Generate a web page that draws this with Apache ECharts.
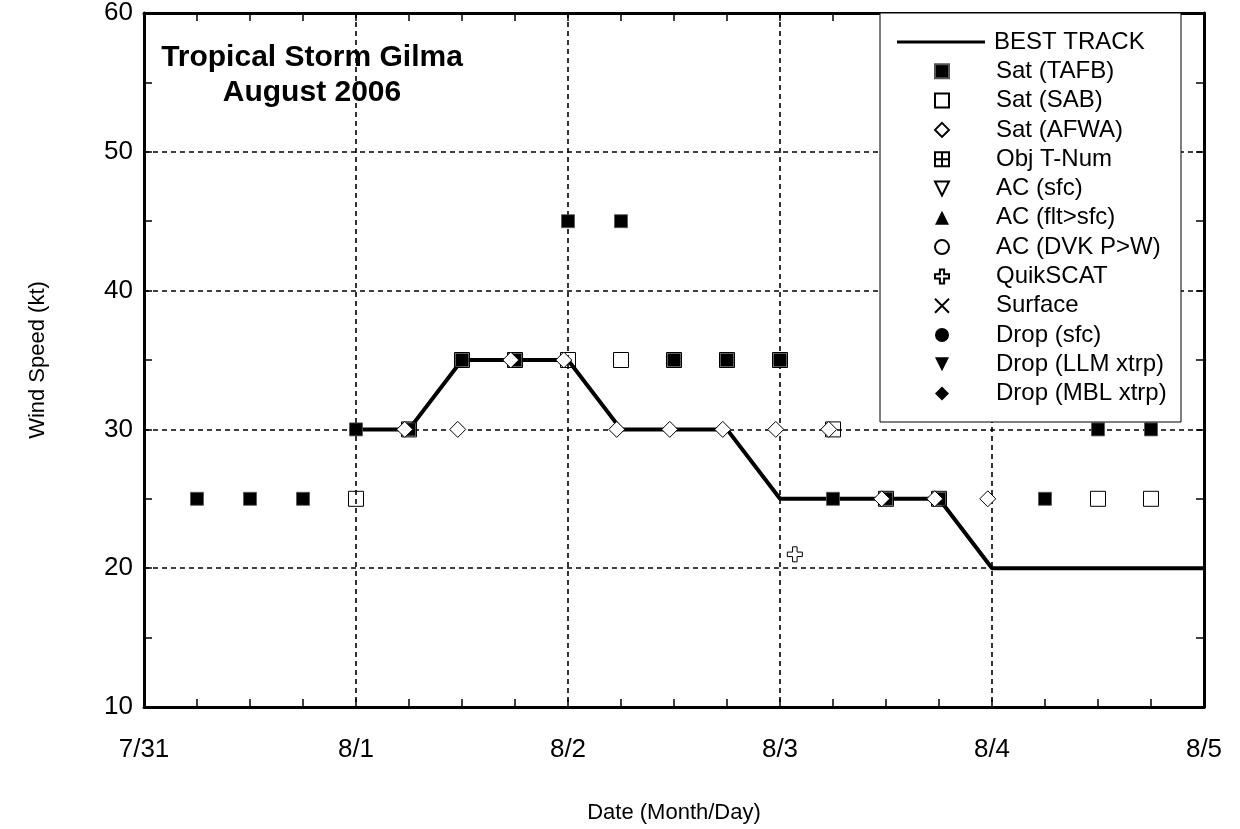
<!DOCTYPE html>
<html><head><meta charset="utf-8">
<script src="https://cdn.jsdelivr.net/npm/echarts@6/dist/echarts.min.js"></script>
<style>html,body{margin:0;padding:0;background:#fff}#c{width:1240px;height:829px}</style>
</head><body><div id="c"></div>
<script>
// x values = days since 7/31 00 UTC
const xTickLabels = ['7/31', '8/1', '8/2', '8/3', '8/4', '8/5'];
const bestTrackX = [1.0, 1.25, 1.5, 1.75, 2.0, 2.25, 2.5, 2.75, 3.0, 3.25, 3.5, 3.75, 4.0, 4.25, 4.5, 4.75, 5.0];
const bestTrackY = [30, 30, 35, 35, 35, 30, 30, 30, 25, 25, 25, 25, 20, 20, 20, 20, 20];
const tafbX = [0.25, 0.5, 0.75, 1.0, 1.25, 1.5, 1.75, 2.0, 2.25, 2.5, 2.75, 3.0, 3.25, 3.5, 3.75, 4.25, 4.5, 4.75];
const tafbY = [25, 25, 25, 30, 30, 35, 35, 45, 45, 35, 35, 35, 25, 25, 25, 25, 30, 30];
const sabX = [1.0, 1.25, 1.5, 1.75, 2.0, 2.25, 2.5, 2.75, 3.0, 3.25, 3.5, 3.75, 4.5, 4.75];
const sabY = [25, 30, 35, 35, 35, 35, 35, 35, 35, 30, 25, 25, 25, 25];
const afwaX = [1.23, 1.48, 1.73, 1.98, 2.23, 2.48, 2.73, 2.98, 3.23, 3.48, 3.73, 3.98];
const afwaY = [30, 30, 35, 35, 30, 30, 30, 30, 30, 25, 25, 25];
const quikscatX = [3.07];
const quikscatY = [21];
const lineLegend = ['BEST TRACK'];
const symbolLegend = ['Sat (TAFB)', 'Sat (SAB)', 'Sat (AFWA)', 'Obj T-Num', 'AC (sfc)',
  'AC (flt>sfc)', 'AC (DVK P>W)', 'QuikSCAT', 'Surface', 'Drop (sfc)', 'Drop (LLM xtrp)', 'Drop (MBL xtrp)'];

const pair = (xs, ys) => xs.map((x, i) => [x, ys[i]]);
const FONT = 'Liberation Sans, Arial, sans-serif';
const open = { color: 'rgba(0,0,0,0)', borderColor: '#000', borderWidth: 1, opacity: 1 };
const whiteOpen = { color: '#fff', borderColor: '#000', borderWidth: 1, opacity: 1 };
const solid = { color: '#000', opacity: 1 };

const chart = echarts.init(document.getElementById('c'), null, { renderer: 'canvas' });
const axisLine = { show: true, onZero: false, lineStyle: { color: '#000', width: 3 } };
const tick = { show: true, inside: true, length: 8, lineStyle: { color: '#000', width: 1.5 } };
const dashStyle = { width: 1.6, type: [5, 4] };

const legendText = { fontSize: 24, color: '#000', fontFamily: FONT, lineHeight: 22 };

chart.setOption({
  animation: false,
  backgroundColor: '#fff',
  grid: { left: 144, right: 36, top: 12, bottom: 114 },
  xAxis: [{
    type: 'value', min: 0, max: 5, interval: 1,
    axisLine: axisLine, axisTick: tick,
    minorTick: { show: true, splitNumber: 4, length: 8, lineStyle: { color: '#000', width: 1.5 } },
    axisLabel: { fontSize: 26, color: '#000', fontFamily: FONT, margin: 30,
      formatter: v => xTickLabels[Math.round(v)] },
    splitLine: { show: true, lineStyle: Object.assign({ color: '#000' }, dashStyle) },
    name: 'Date (Month/Day)', nameLocation: 'middle', nameGap: 95,
    nameTextStyle: { fontSize: 22, color: '#000', fontFamily: FONT }
  }, {
    type: 'value', position: 'top', min: 0, max: 5, interval: 0.25,
    axisLine: axisLine, axisTick: tick,
    axisLabel: { show: false }, splitLine: { show: false }
  }],
  yAxis: [{
    type: 'value', min: 10, max: 60, interval: 5,
    axisLine: axisLine, axisTick: tick,
    axisLabel: { fontSize: 26, color: '#000', fontFamily: FONT, margin: 11,
      formatter: v => (v % 10 === 0 ? String(v) : '') },
    splitLine: { show: true, lineStyle: Object.assign({ color: ['#000', 'rgba(0,0,0,0)'] }, dashStyle) },
    name: 'Wind Speed (kt)', nameLocation: 'middle', nameGap: 95, nameRotate: 90,
    nameTextStyle: { fontSize: 22, color: '#000', fontFamily: FONT }
  }, {
    type: 'value', position: 'right', min: 10, max: 60, interval: 5,
    axisLine: axisLine, axisTick: tick,
    axisLabel: { show: false }, splitLine: { show: false }
  }],
  legend: [{
    data: lineLegend.map(n => ({ name: n, icon: 'rect' })), orient: 'vertical', left: 897, top: 30,
    itemWidth: 88, itemHeight: 3, itemGap: 5.3, padding: 0, selectedMode: false, z: 6,
    itemStyle: { color: '#000' },
    textStyle: Object.assign({ padding: [0, 0, 0, 4] }, legendText)
  }, {
    data: symbolLegend, orient: 'vertical', left: 934, top: 59.3,
    itemWidth: 14, itemHeight: 14, itemGap: 5.3, padding: 0, selectedMode: false, z: 6,
    textStyle: Object.assign({ padding: [0, 0, 0, 42] }, legendText)
  }],
  graphic: [
    { type: 'rect', z: 5, shape: { x: 880, y: 13, width: 301, height: 409 },
      style: { fill: '#fff', stroke: '#000', lineWidth: 1 } },
    { type: 'text', z: 5, x: 312, y: 58,
      style: { text: 'Tropical Storm Gilma', font: 'bold 30px ' + FONT, fill: '#000', align: 'center', verticalAlign: 'middle' } },
    { type: 'text', z: 5, x: 312, y: 93,
      style: { text: 'August 2006', font: 'bold 30px ' + FONT, fill: '#000', align: 'center', verticalAlign: 'middle' } }
  ],
  series: [
    { name: 'BEST TRACK', type: 'line', data: pair(bestTrackX, bestTrackY), symbol: 'none', z: 2,
      lineStyle: { color: '#000', width: 4 }, itemStyle: { color: '#000' } },
    { name: 'Sat (TAFB)', type: 'scatter', data: pair(tafbX, tafbY), symbol: 'rect', symbolSize: 13, z: 3,
      itemStyle: { color: '#000', borderColor: '#555', borderWidth: 0.8, opacity: 1 } },
    { name: 'Sat (SAB)', type: 'scatter', data: pair(sabX, sabY), symbol: 'rect', symbolSize: 15, z: 3,
      itemStyle: open },
    { name: 'Sat (AFWA)', type: 'scatter', data: pair(afwaX, afwaY), symbol: 'diamond', symbolSize: 16, z: 4,
      itemStyle: whiteOpen },
    { name: 'Obj T-Num', type: 'scatter', data: [], symbol: 'path://M0,0H10V10H0Z M5,0V10 M0,5H10', symbolSize: 14,
      itemStyle: open },
    { name: 'AC (sfc)', type: 'scatter', data: [], symbol: 'path://M0,0L10,0L5,10Z', symbolSize: 14, itemStyle: open },
    { name: 'AC (flt>sfc)', type: 'scatter', data: [], symbol: 'triangle', symbolSize: 14, itemStyle: solid },
    { name: 'AC (DVK P>W)', type: 'scatter', data: [], symbol: 'circle', symbolSize: 14, itemStyle: open },
    { name: 'QuikSCAT', type: 'scatter', data: pair(quikscatX, quikscatY), z: 4,
      symbol: 'path://M3.5,0H6.5V3.5H10V6.5H6.5V10H3.5V6.5H0V3.5H3.5Z', symbolSize: 15, itemStyle: whiteOpen },
    { name: 'Surface', type: 'scatter', data: [], symbol: 'path://M0,0L10,10M10,0L0,10', symbolSize: 14, itemStyle: open },
    { name: 'Drop (sfc)', type: 'scatter', data: [], symbol: 'circle', symbolSize: 14, itemStyle: solid },
    { name: 'Drop (LLM xtrp)', type: 'scatter', data: [], symbol: 'path://M0,0L10,0L5,10Z', symbolSize: 14, itemStyle: solid },
    { name: 'Drop (MBL xtrp)', type: 'scatter', data: [], symbol: 'diamond', symbolSize: 14, itemStyle: solid }
  ]
});
</script></body></html>
